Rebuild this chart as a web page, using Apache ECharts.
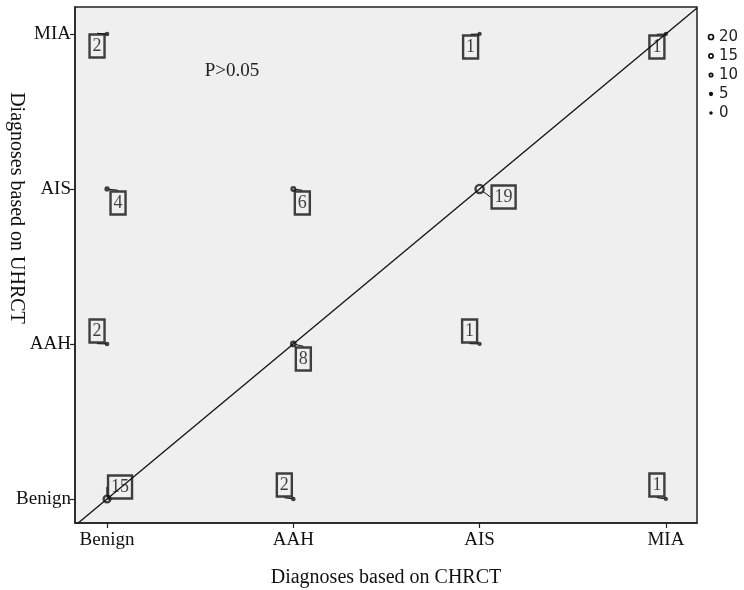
<!DOCTYPE html>
<html>
<head>
<meta charset="utf-8">
<script src="https://cdn.jsdelivr.net/npm/echarts@6/dist/echarts.min.js"></script>
<style>
  html, body { margin: 0; padding: 0; background: #ffffff; }
  #chart { width: 744px; height: 590px; }
</style>
</head>
<body>
<div id="chart"></div>
<script>
// Diagnostic categories shared by both axes
const categories = ['Benign', 'AAH', 'AIS', 'MIA'];
// [CHRCT category index, UHRCT category index, number of cases]
const cases = [
  [0, 3, 2], [2, 3, 1], [3, 3, 1],
  [0, 2, 4], [1, 2, 6], [2, 2, 19],
  [0, 1, 2], [1, 1, 8], [2, 1, 1],
  [0, 0, 15], [1, 0, 2], [3, 0, 1]
];
// Values shown in the marker-size legend
const sizeLegendValues = [20, 15, 10, 5, 0];
const pValueText = 'P>0.05';
const xTitle = 'Diagnoses based on CHRCT';
const yTitle = 'Diagnoses based on UHRCT';

// Pixel shift of each count box away from its marker (same order as cases)
const labelShift = [
  [-10, 12], [-9, 13], [-9, 13],
  [11, 14], [9, 14], [24, 8],
  [-10, -13], [10, 15], [-10, -13],
  [13, -12], [-9, -14], [-9, -14]
];

const X_MIN = -0.172, X_MAX = 3.167;
const Y_MIN = -0.155, Y_MAX = 3.174;
const SERIF = '"Liberation Serif", "Times New Roman", serif';

const markerSize = v => 1.5 + 0.35 * v;

const chart = echarts.init(document.getElementById('chart'), null, { renderer: 'canvas' });

const legendGraphics = [];
sizeLegendValues.forEach((v, i) => {
  const cy = 37 + 19 * i;
  legendGraphics.push({
    type: 'circle',
    shape: { cx: 711, cy: cy, r: 0.9 + 0.08 * v },
    style: { fill: v <= 5 ? '#111' : 'none', stroke: '#111', lineWidth: 1.7 },
    silent: true
  });
  legendGraphics.push({
    type: 'text',
    x: 719, y: cy,
    style: {
      text: String(v), fill: '#222',
      font: '15px "DejaVu Sans", sans-serif',
      textAlign: 'left', textVerticalAlign: 'middle'
    },
    silent: true
  });
});

const axisCommon = {
  type: 'value',
  splitLine: { show: false },
  axisLine: { show: true, onZero: false, lineStyle: { color: '#222', width: 1.5 } },
  axisTick: { show: true, length: 5, inside: false, customValues: [0, 1, 2, 3], lineStyle: { color: '#222', width: 1.2 } },
  axisLabel: {
    customValues: [0, 1, 2, 3],
    formatter: v => categories[Math.round(v)],
    color: '#111', fontFamily: SERIF, fontSize: 19
  }
};

chart.setOption({
  animation: false,
  backgroundColor: '#ffffff',
  grid: {
    left: 75, right: 47, top: 7, bottom: 67,
    outerBoundsMode: 'none',
    containLabel: false,
    show: true, backgroundColor: '#efefef',
    borderColor: '#222', borderWidth: 1.5
  },
  xAxis: Object.assign({}, axisCommon, {
    min: X_MIN, max: X_MAX,
    name: xTitle, nameLocation: 'middle', nameGap: 45,
    nameTextStyle: { color: '#111', fontFamily: SERIF, fontSize: 20 },
    axisLabel: Object.assign({}, axisCommon.axisLabel, { margin: 8 })
  }),
  yAxis: Object.assign({}, axisCommon, {
    min: Y_MIN, max: Y_MAX,
    axisLabel: Object.assign({}, axisCommon.axisLabel, { margin: 4 })
  }),
  graphic: [
    {
      type: 'text', x: 16, y: 208, rotation: -Math.PI / 2,
      style: {
        text: yTitle, fill: '#111', font: '20px ' + SERIF,
        textAlign: 'center', textVerticalAlign: 'middle'
      },
      silent: true
    },
    {
      type: 'text', x: 232, y: 71,
      style: {
        text: pValueText, fill: '#222', font: '19px ' + SERIF,
        textAlign: 'center', textVerticalAlign: 'middle'
      },
      silent: true
    }
  ].concat(legendGraphics),
  series: [
    {
      // identity reference line (equal diagnoses on both scans)
      type: 'line',
      data: [[X_MIN, X_MIN], [X_MAX, X_MAX]],
      showSymbol: false,
      clip: true,
      silent: true,
      lineStyle: { color: '#111', width: 1.3 },
      z: 2
    },
    {
      type: 'scatter',
      data: cases,
      symbol: 'circle',
      symbolSize: d => markerSize(d[2]),
      itemStyle: { color: 'rgba(0,0,0,0)', borderColor: '#111', borderWidth: 2.4 },
      label: {
        show: true,
        position: 'inside',
        formatter: p => String(p.data[2]),
        color: '#111',
        fontFamily: SERIF,
        fontSize: 18,
        lineHeight: 18,
        padding: [3, 3, 2, 3],
        borderColor: '#111',
        borderWidth: 1.2,
        backgroundColor: 'rgba(0,0,0,0)'
      },
      labelLine: { show: true, lineStyle: { color: '#111', width: 1 } },
      labelLayout: p => ({ dx: labelShift[p.dataIndex][0], dy: labelShift[p.dataIndex][1] }),
      z: 3
    }
  ]
});
</script>
</body>
</html>
